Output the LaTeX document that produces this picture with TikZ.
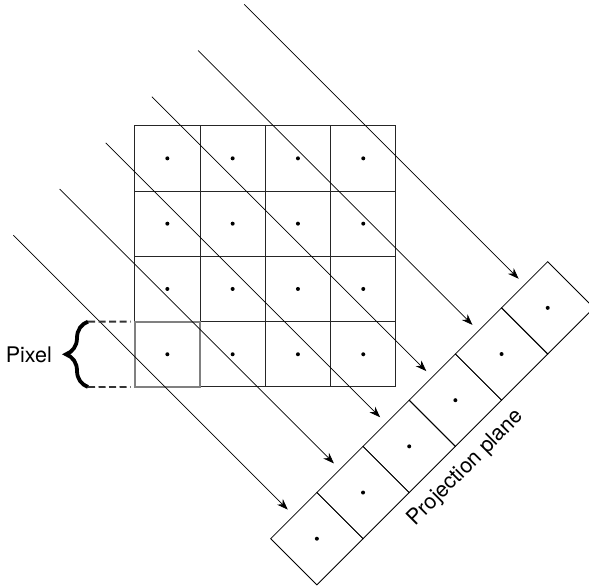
\documentclass[tikz,border=0pt]{standalone}
\usepackage{fontspec}
\setmainfont{TeX Gyre Heros}
\usetikzlibrary{arrows.meta,calc,decorations.pathreplacing}
\begin{document}
\begin{tikzpicture}[x=1pt,y=-1pt,
  gridcell/.style={draw=black!85, line width=1pt, minimum size=65.3pt, inner sep=0pt, outer sep=0pt},
  projcell/.style={draw=black, line width=0.8pt, minimum size=65.3pt, inner sep=0pt, outer sep=0pt, rotate=45},
  dotmark/.style={circle, fill=black, inner sep=0pt, minimum size=4pt},
  ray/.style={draw=black, line width=0.7pt, -{Stealth[length=11pt,width=8pt,inset=3.5pt]}, shorten >=8.5pt},
  pixcell/.style={draw=black!50, line width=2.2pt, minimum size=65.3pt, inner sep=0pt, outer sep=0pt},
  dashline/.style={draw=black!80, line width=1.8pt, dash pattern=on 7pt off 3.5pt, shorten >=4pt},
  bracemark/.style={draw=black, line width=3.8pt, decorate, decoration={brace, amplitude=22pt}},
  lbl/.style={font=\fontsize{21.5}{25}\selectfont, inner sep=0pt}
]
\useasboundingbox (0,0) rectangle (589,587);
% grid of pixels
\foreach \r in {1,...,4}{
  \foreach \c in {1,...,4}{
    \node[gridcell] (g\r\c) at ({167.35+65.3*(\c-1)},{158.35+65.3*(\r-1)}) {};
    \node[dotmark] (d\r\c) at (g\r\c.center) {};
  }
}
\node[pixcell] (pix) at (g41.center) {};
% projection plane and rays
\foreach \i in {1,...,6}{
  \node[projcell] (p\i) at ({270.7+46.17*\i},{538.7-46.17*(\i-1)}) {};
  \node[dotmark] (q\i) at (p\i.center) {};
  \coordinate (s\i) at ($(p\i.center)-(303.5,303.5)$);
  \draw[ray] (s\i) -- (p\i.north);
}
% pixel label
\coordinate (bt) at (88,321.6);
\coordinate (bb) at (88,387);
\draw[bracemark] (bb) -- (bt);
\draw[dashline] (bt) -- (pix.north west);
\draw[dashline] (bb) -- (pix.south west);
\node[lbl, anchor=east] (pixlabel) at (52,355) {Pixel};
\node[lbl, rotate=45] (planelabel) at (466,468) {Projection plane};
\end{tikzpicture}
\end{document}
